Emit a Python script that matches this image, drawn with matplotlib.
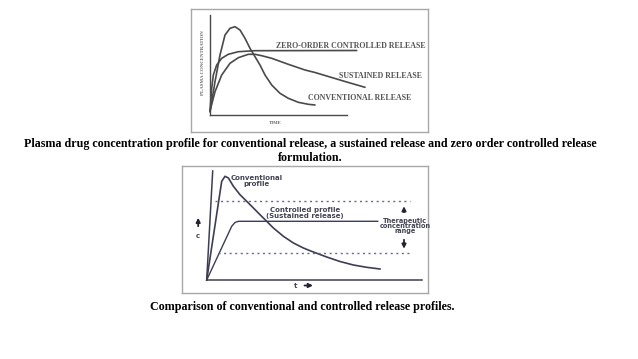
import matplotlib.pyplot as plt

W, H = 638, 359

# ---- top diagram data (time, plasma concentration)
conv_t = [0, 0.5, 1.0, 1.5, 2.0, 2.5, 3.0, 3.5, 4.0, 4.5, 5.0, 5.5, 6.17, 7.0, 7.83, 8.83, 9.83, 10.5]
conv_c = [0.3, 3.33, 6.0, 8.0, 8.67, 8.83, 8.5, 7.67, 6.67, 5.83, 5.0, 4.0, 3.0, 2.17, 1.67, 1.27, 1.07, 1.0]
zero_t = [0, 0.17, 0.33, 0.67, 1.17, 1.83, 2.83, 4.5, 14.67]
zero_c = [0.4, 2.67, 4.0, 5.0, 5.67, 6.07, 6.33, 6.43, 6.45]
sust_t = [0, 0.5, 1.17, 2.0, 2.83, 3.83, 4.5, 5.17, 6.17, 7.83, 9.5, 10.5, 12.0, 13.67, 15.5]
sust_c = [0.4, 2.33, 4.0, 5.17, 5.73, 6.07, 6.07, 5.93, 5.67, 5.07, 4.5, 4.25, 3.8, 3.3, 2.77]

# ---- bottom diagram data
conv2_t = [0, 1.5, 1.83, 2.17, 2.67, 3.33, 4.0, 4.67, 5.33, 6.0, 6.67, 7.67, 8.67,
           9.67, 10.33, 11.33, 12.0, 13.33, 14.67, 16.0, 17.33]
conv2_c = [0, 9.87, 10.37, 10.2, 9.37, 8.53, 7.87, 7.2, 6.53, 5.87, 5.2, 4.37, 3.7,
           3.2, 2.93, 2.55, 2.3, 1.85, 1.5, 1.27, 1.1]
ctrl_t = [0, 2.5, 2.83, 3.17, 17.1]
ctrl_c = [0, 5.37, 5.75, 5.87, 5.87]
upper_lim = 7.87
lower_lim = 2.7

caption1 = ("Plasma drug concentration profile for conventional release, a sustained release and zero order controlled release\n"
            "formulation.")
caption2 = "Comparison of conventional and controlled release profiles."


def box_axes(fig, left, top, right, bottom, xlim, ylim):
    ax = fig.add_axes([left / W, 1 - bottom / H, (right - left) / W, (bottom - top) / H])
    ax.set_xlim(*xlim)
    ax.set_ylim(*ylim)
    ax.set_xticks([])
    ax.set_yticks([])
    for s in ax.spines.values():
        s.set_color("#a8a8a8")
        s.set_linewidth(1.0)
    return ax


fig = plt.figure(figsize=(W / 100, H / 100), dpi=100)
fig.patch.set_facecolor("white")

# top panel
ax1 = box_axes(fig, 191, 9, 428, 132, (-1.9, 21.8), (-1.7, 10.6))
gray = "#4a4a4a"
ax1.plot([0, 0], [0, 10.0], color=gray, lw=1.0)
ax1.plot([0, 13.7], [0, 0], color=gray, lw=1.0)
for t, c in [(conv_t, conv_c), (zero_t, zero_c), (sust_t, sust_c)]:
    ax1.plot(t, c, color=gray, lw=1.2, solid_capstyle="round", solid_joinstyle="round")
lab = dict(family=["DejaVu Serif Condensed", "Liberation Serif"], weight="bold",
           color="#555555", fontsize=5.7)
ax1.text(6.6, 6.95, "ZERO-ORDER CONTROLLED RELEASE", va="center", ha="left", **lab)
ax1.text(12.9, 3.9, "SUSTAINED RELEASE", va="center", ha="left", **lab)
ax1.text(9.8, 1.67, "CONVENTIONAL RELEASE", va="center", ha="left", **lab)
ax1.text(6.5, -0.8, "TIME", va="center", ha="center", fontsize=3.5,
         family="Liberation Serif", weight="bold", color="#666666")
ax1.text(-0.7, 5.2, "PLASMA CONCENTRATION", rotation=90, va="center", ha="center",
         fontsize=3.5, family="Liberation Serif", weight="bold", color="#666666")

# bottom panel
ax2 = box_axes(fig, 182, 166, 428, 293, (-2.47, 22.13), (-1.3, 11.4))
navy = "#3d3d55"
ax2.plot([0, 0.6], [0, 10.9], color=navy, lw=1.1)
ax2.plot([0, 21.5], [0, 0], color=navy, lw=1.1)
ax2.plot(conv2_t, conv2_c, color=navy, lw=1.2, solid_joinstyle="round")
ax2.plot(ctrl_t, ctrl_c, color=navy, lw=1.0, solid_joinstyle="round")
ax2.plot([0.83, 20.33], [upper_lim, upper_lim], color="#6a6a8a", lw=1.0, ls=(0, (1.5, 2.5)))
ax2.plot([1.17, 20.33], [lower_lim, lower_lim], color="#6a6a8a", lw=1.0, ls=(0, (1.5, 2.5)))
lab2 = dict(family=["DejaVu Sans Condensed", "DejaVu Sans"], weight="bold",
            color="#444455", fontsize=5.0, ha="center", va="center", linespacing=1.05)
ax2.text(5.0, 9.9, "Conventional\nprofile", **lab2)
ax2.text(9.83, 6.67, "Controlled profile\n(Sustained release)", **lab2)
lab3 = dict(lab2, fontsize=4.7, linespacing=0.9)
ax2.text(19.85, 5.4, "Therapeutic\nconcentration\nrange", **lab3)
arr = dict(arrowstyle="-|>", color="#222233", lw=1.3, mutation_scale=6)
ax2.annotate("", xy=(19.73, 7.65), xytext=(19.73, 6.5), arrowprops=arr)
ax2.annotate("", xy=(19.73, 2.85), xytext=(19.73, 4.3), arrowprops=arr)
ax2.annotate("", xy=(-0.85, 6.5), xytext=(-0.85, 5.1), arrowprops=arr)
ax2.text(-0.85, 4.4, "c", **lab2)
ax2.text(8.9, -0.55, "t", **lab2)
ax2.annotate("", xy=(10.9, -0.55), xytext=(9.5, -0.55), arrowprops=arr)

# captions
fig.text(310 / W, 1 - 151 / H, caption1, ha="center", va="center",
         family="Liberation Serif", weight="bold", fontsize=8.65, linespacing=1.3)
fig.text(302 / W, 1 - 307 / H, caption2, ha="center", va="center",
         family="Liberation Serif", weight="bold", fontsize=8.65)

fig.savefig("out.png", dpi=100)
